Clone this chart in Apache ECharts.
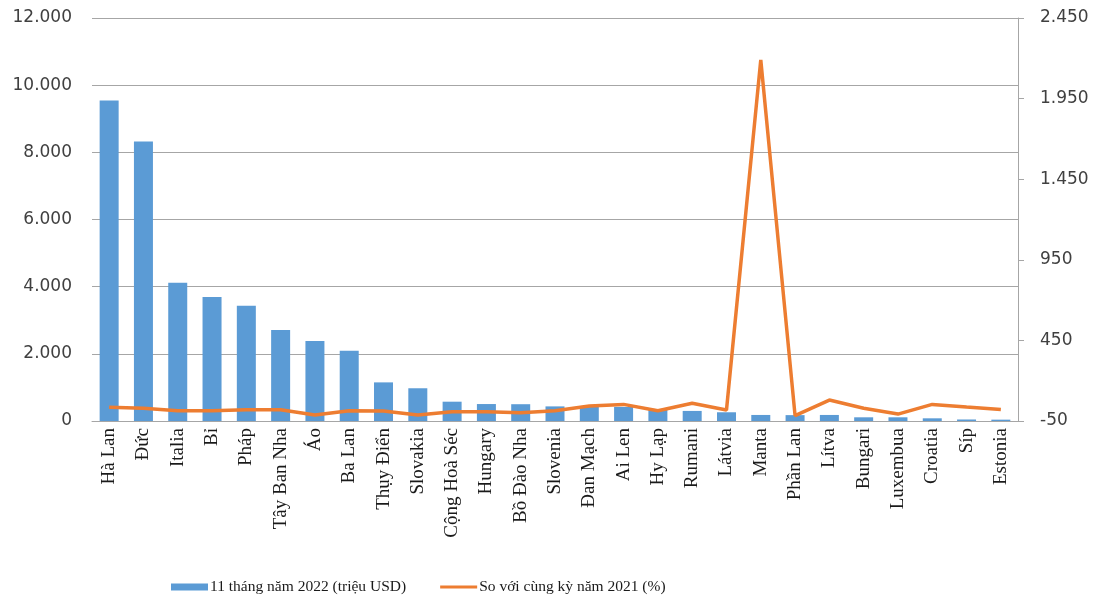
<!DOCTYPE html>
<html>
<head>
<meta charset="utf-8">
<script src="https://cdn.jsdelivr.net/npm/echarts@6/dist/echarts.min.js"></script>
<style>html,body{margin:0;padding:0;background:#fff}#c{width:1102px;height:599px}</style>
</head>
<body>
<div id="c"></div>
<script>
const categories = ["Hà Lan","Đức","Italia","Bỉ","Pháp","Tây Ban Nha","Áo","Ba Lan","Thụy Điển","Slovakia","Cộng Hoà Séc","Hungary","Bồ Đào Nha","Slovenia","Đan Mạch","Ai Len","Hy Lạp","Rumani","Látvia","Manta","Phần Lan","Lítva","Bungari","Luxembua","Croatia","Síp","Estonia"];
const value2022 = [9540,8320,4120,3690,3430,2710,2380,2090,1150,975,575,505,500,435,430,420,330,300,260,180,175,180,110,110,80,45,40];
const changePct = [35,29,14,14,20,20,-13,14,12,-13,8,8,1,14,43,53,14,60,18,2190,-17,80,29,-7,53,37,22];
const leftTicks = {min:0,max:12000,interval:2000};
const rightTicks = {min:-50,max:2450,interval:500};
const seriesNames = ["11 tháng năm 2022 (triệu USD)","So với cùng kỳ năm 2021 (%)"];

function fmt(v){return String(v).replace(/\B(?=(\d{3})+(?!\d))/g,'.');}

const chart = echarts.init(document.getElementById('c'), null, {renderer:'canvas'});
chart.setOption({
  animation:false,
  backgroundColor:'#fff',
  grid:{left:92,right:84,top:18,bottom:178,containLabel:false},
  legend:{
    top:574, left:166, itemGap:34, itemWidth:37, itemHeight:7,
    textStyle:{fontFamily:'Liberation Serif',fontSize:15.5,color:'#1a1a1a',padding:[0,0,0,-3]},
    data:[
      {name:seriesNames[0],icon:'rect'},
      {name:seriesNames[1],icon:'path://M0,0h37v3h-37z',itemStyle:{color:'#ed7d31'}}
    ]
  },
  xAxis:{
    type:'category', data:categories,
    axisLine:{lineStyle:{color:'#a6a6a6',width:1}},
    axisTick:{show:false},
    axisLabel:{rotate:90,interval:0,margin:7,fontFamily:'Liberation Serif',fontSize:19,color:'#1a1a1a'}
  },
  yAxis:[{
    type:'value', min:leftTicks.min, max:leftTicks.max, interval:leftTicks.interval,
    axisLine:{show:false}, axisTick:{show:false},
    splitLine:{lineStyle:{color:'#a6a6a6',width:1}},
    axisLabel:{margin:20,fontFamily:'DejaVu Sans',fontSize:17,color:'#404040',formatter:fmt}
  },{
    type:'value', min:rightTicks.min, max:rightTicks.max, interval:rightTicks.interval,
    position:'right',
    axisLine:{show:true,lineStyle:{color:'#a6a6a6',width:1}},
    axisTick:{show:true,inside:false,length:6,lineStyle:{color:'#a6a6a6'}},
    splitLine:{show:false},
    axisLabel:{margin:22,fontFamily:'DejaVu Sans',fontSize:17,color:'#404040',formatter:fmt}
  }],
  series:[{
    name:seriesNames[0], type:'bar', data:value2022, barWidth:19,
    itemStyle:{color:'#5b9bd5'}
  },{
    name:seriesNames[1], type:'line', yAxisIndex:1, data:changePct,
    symbol:'none', showSymbol:false, lineStyle:{color:'#ed7d31',width:3.5}, itemStyle:{color:'#ed7d31'}
  }]
});
</script>
</body>
</html>
